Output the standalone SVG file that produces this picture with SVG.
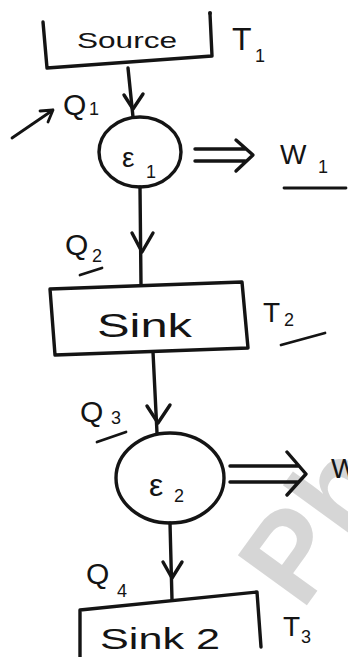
<svg xmlns="http://www.w3.org/2000/svg" width="348" height="657" viewBox="0 0 348 657">
  <defs>
    <style>
      .ink { fill: none; stroke: #141414; stroke-width: 3.4; stroke-linecap: round; stroke-linejoin: round; }
      .thin { fill: none; stroke: #141414; stroke-width: 2.8; stroke-linecap: round; stroke-linejoin: round; }
      .lbl { font-family: "Liberation Sans", "DejaVu Sans", sans-serif; fill: #141414; }
      .big { font-size: 30px; }
      .mid { font-size: 26px; }
      .sub { font-size: 18px; }
      .mark { font-family: "Liberation Sans", "DejaVu Sans", sans-serif; font-weight: bold; font-size: 124px; fill: #cfcfcf; fill-opacity: 0.85; }
    </style>
  </defs>

  <rect width="348" height="657" fill="#ffffff"/>

  <!-- faint watermark across the lower right -->
  <text class="mark" transform="translate(302,612) rotate(-54)">Ph</text>

  <!-- hot reservoir -->
  <g id="source">
    <path class="ink" d="M43,22 L47,68 L212,56 L210,14"/>
    <circle cx="210" cy="13" r="2" fill="#141414"/>
    <text class="lbl" x="77" y="48" font-size="22" textLength="100" lengthAdjust="spacingAndGlyphs">Source</text>
    <text class="lbl" x="232" y="50" font-size="32">T</text>
    <text class="lbl sub" x="255" y="62">1</text>
  </g>

  <!-- first engine -->
  <g id="engine1">
    <ellipse class="ink" cx="140" cy="152" rx="41" ry="35"/>
    <text class="lbl" x="122" y="167" font-size="28">ε</text>
    <text class="lbl sub" x="146" y="178">1</text>
  </g>

  <!-- intermediate reservoir -->
  <g id="sink">
    <path class="ink" d="M50,289 L242,282 L248,348 L55,355 Z"/>
    <text class="lbl" x="97" y="337" font-size="34" textLength="95" lengthAdjust="spacingAndGlyphs">Sink</text>
    <text class="lbl" x="263" y="322" font-size="28">T</text>
    <text class="lbl sub" x="284" y="326">2</text>
    <path class="thin" d="M281,345 L325,333"/>
  </g>

  <!-- second engine -->
  <g id="engine2">
    <ellipse class="ink" cx="170" cy="478" rx="54" ry="45"/>
    <text class="lbl" x="149" y="496" font-size="32">ε</text>
    <text class="lbl sub" x="174" y="502">2</text>
  </g>

  <!-- cold reservoir -->
  <g id="sink2">
    <path class="ink" d="M80,657 L80,610 L257,592 L261,647"/>
    <text class="lbl" x="100" y="649" font-size="29" textLength="120" lengthAdjust="spacingAndGlyphs">Sink 2</text>
    <text class="lbl" x="283" y="636" font-size="28">T</text>
    <text class="lbl sub" x="301" y="643">3</text>
  </g>

  <!-- heat and work labels -->
  <g id="labels">
    <path class="thin" d="M12,138 L53,110 M40,111 L53,110 L48,122"/>
    <text class="lbl big" x="63" y="115">Q</text>
    <text class="lbl sub" x="89" y="115">1</text>

    <text class="lbl big" x="65" y="255">Q</text>
    <text class="lbl sub" x="92" y="262">2</text>
    <path class="thin" d="M80,275 L102,268"/>

    <text class="lbl big" x="80" y="422">Q</text>
    <text class="lbl sub" x="111" y="424">3</text>
    <path class="thin" d="M97,442 L126,432"/>

    <text class="lbl big" x="86" y="584">Q</text>
    <text class="lbl sub" x="117" y="597">4</text>

    <text class="lbl" x="280" y="164" font-size="28">W</text>
    <text class="lbl sub" x="318" y="173">1</text>
    <path class="thin" d="M284,188 L346,188"/>

    <text class="lbl" x="331" y="478" font-size="28">W</text>
  </g>

  <!-- heat flow and work output arrows -->
  <g id="connectors">
    <path class="ink" d="M128,68 L133,117"/>
    <path class="ink" d="M124,95 L133,109 L143,94"/>

    <path class="ink" d="M140,187 L141,285"/>
    <path class="ink" d="M132,233 L142,252 L153,233"/>

    <path class="ink" d="M153,352 L157,433"/>
    <path class="ink" d="M147,406 L158,423 L170,405"/>

    <path class="ink" d="M170,523 L172,600"/>
    <path class="ink" d="M163,562 L172,578 L182,562"/>

    <path class="ink" d="M195,149 L245,149 M195,161 L245,161 M236,140 L253,155 L236,171"/>
    <path class="ink" d="M230,466 L298,466 M230,482 L298,482 M287,452 L306,474 L287,495"/>
  </g>
</svg>
